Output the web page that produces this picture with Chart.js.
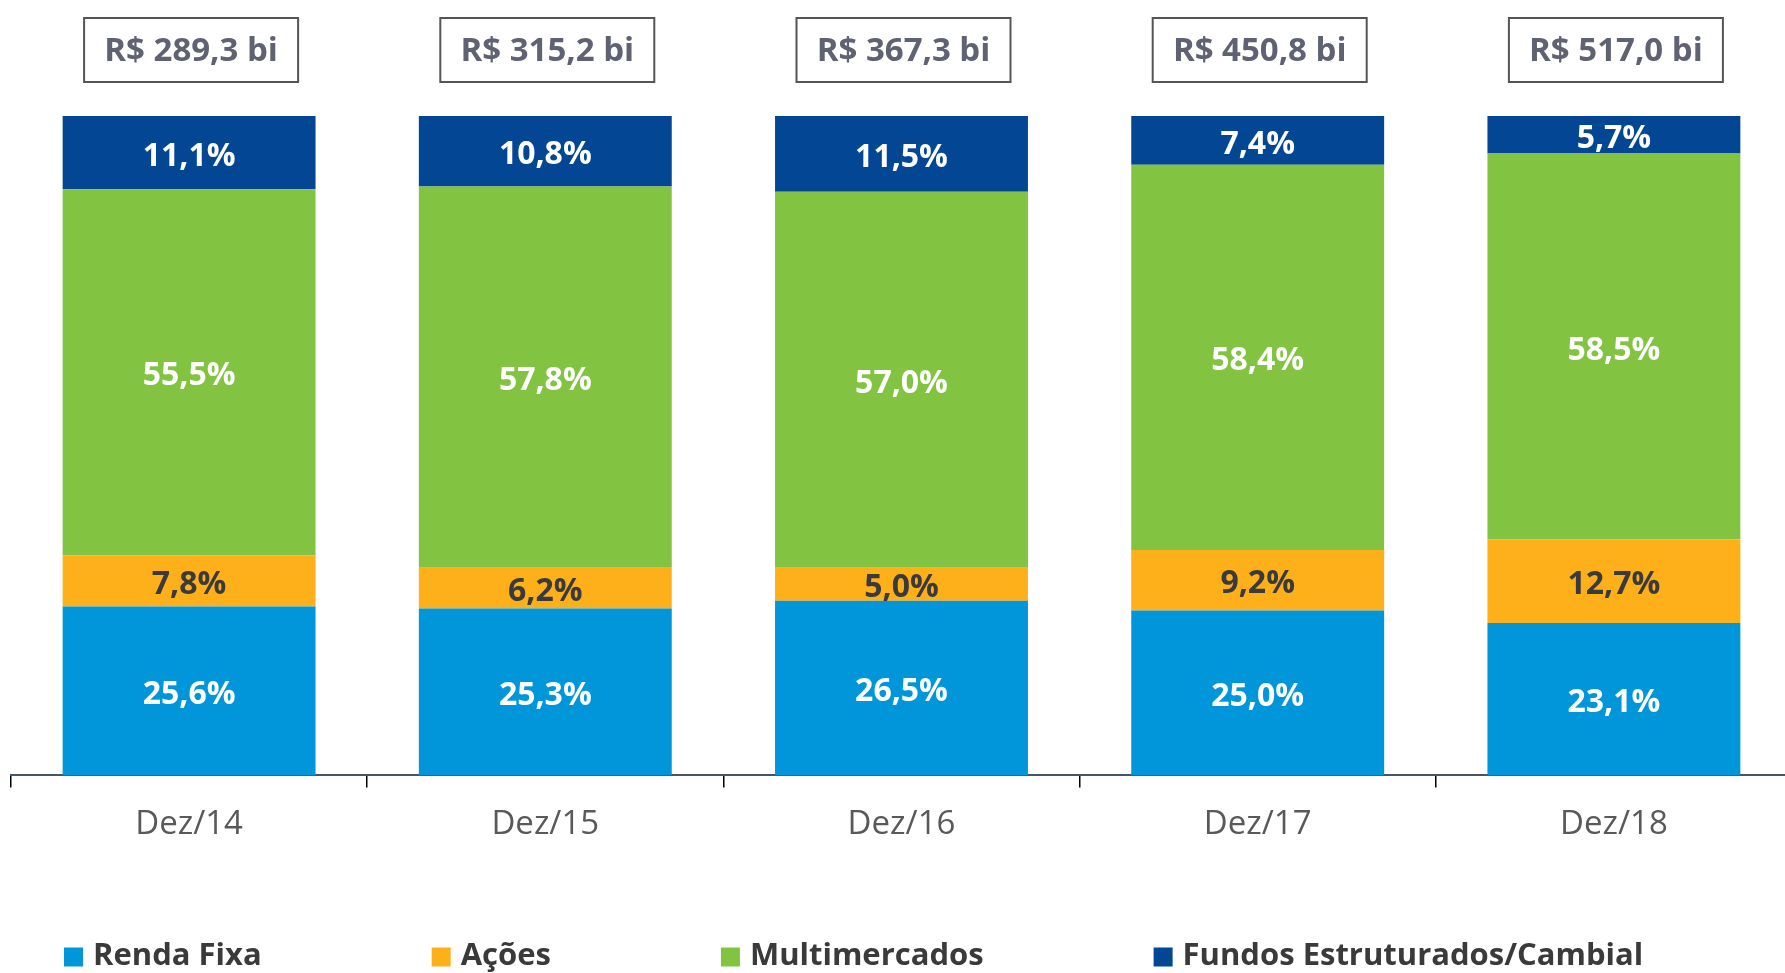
<!DOCTYPE html>
<html><head><meta charset="utf-8">
<script src="https://cdn.jsdelivr.net/npm/chart.js@4"></script>
<style>html,body{margin:0;padding:0;background:#fff;overflow:hidden}#wrap{width:1792px;height:973px;position:relative}</style>
</head><body><div id="wrap"><canvas id="c"></canvas></div>
<script>
// ---- data ----
const categories = ['Dez/14', 'Dez/15', 'Dez/16', 'Dez/17', 'Dez/18'];
const rendaFixa = [25.6, 25.3, 26.5, 25.0, 23.1];
const acoes = [7.8, 6.2, 5.0, 9.2, 12.7];
const multimercados = [55.5, 57.8, 57.0, 58.4, 58.5];
const fundosEstruturados = [11.1, 10.8, 11.5, 7.4, 5.7];
const totalsBi = [289.3, 315.2, 367.3, 450.8, 517.0];
const seriesNames = ['Renda Fixa', 'Ações', 'Multimercados', 'Fundos Estruturados/Cambial'];
const seriesColors = ['#0096D9', '#FDB019', '#82C341', '#034693'];
const labelColors = ['#FFFFFF', '#3A3A3A', '#FFFFFF', '#FFFFFF'];

const FONT = "'Open Sans', 'DejaVu Sans', sans-serif";
const fmt = v => v.toFixed(1).replace('.', ',');

Chart.defaults.font.family = FONT;

const segmentLabels = {
  id: 'segmentLabels',
  afterDatasetsDraw(chart) {
    const ctx = chart.ctx;
    ctx.save();
    ctx.font = 'bold 32px ' + FONT;
    ctx.textAlign = 'center';
    ctx.textBaseline = 'middle';
    chart.data.datasets.forEach((ds, d) => {
      const meta = chart.getDatasetMeta(d);
      meta.data.forEach((bar, i) => {
        const cy = (bar.y + bar.base) / 2 + 4;
        ctx.fillStyle = labelColors[d];
        ctx.fillText(fmt(ds.data[i]) + '%', bar.x, cy);
      });
    });
    ctx.restore();
  }
};

const totalBoxes = {
  id: 'totalBoxes',
  afterDraw(chart) {
    const ctx = chart.ctx;
    const meta = chart.getDatasetMeta(0);
    const top = chart.chartArea.top;
    ctx.save();
    ctx.font = 'bold 33px ' + FONT;
    ctx.textAlign = 'center';
    ctx.textBaseline = 'middle';
    meta.data.forEach((bar, i) => {
      const w = 214, h = 64;
      const x = bar.x + 2 - w / 2;
      const y = top - 98;
      ctx.fillStyle = '#FFFFFF';
      ctx.fillRect(x, y, w, h);
      ctx.strokeStyle = '#555555';
      ctx.lineWidth = 2;
      ctx.strokeRect(x, y, w, h);
      ctx.fillStyle = '#5F6272';
      ctx.fillText('R$ ' + fmt(totalsBi[i]) + ' bi', x + w / 2, y + h / 2 + 2);
    });
    ctx.restore();
  }
};

const bottomLegend = {
  id: 'bottomLegend',
  afterDraw(chart) {
    const ctx = chart.ctx;
    ctx.save();
    ctx.font = 'bold 31px ' + FONT;
    ctx.textBaseline = 'middle';
    ctx.textAlign = 'left';
    let x = chart.chartArea.left + 53;
    const cy = chart.height - 17;
    const box = 19, gap = 10, spacing = 170;
    chart.data.datasets.forEach((ds) => {
      ctx.fillStyle = ds.backgroundColor;
      ctx.fillRect(x, cy - box / 2 + 1, box, box);
      ctx.fillStyle = '#3A3A3A';
      ctx.fillText(ds.label, x + box + gap, cy);
      x += box + gap + ctx.measureText(ds.label).width + spacing;
    });
    ctx.restore();
  }
};

const seriesData = [rendaFixa, acoes, multimercados, fundosEstruturados];

new Chart(document.getElementById('c'), {
  type: 'bar',
  data: {
    labels: categories,
    datasets: seriesData.map((arr, k) => ({
      label: seriesNames[k],
      data: arr,
      backgroundColor: seriesColors[k],
      borderWidth: 0,
      barPercentage: 0.71,
      categoryPercentage: 1.0
    }))
  },
  options: {
    responsive: true,
    maintainAspectRatio: false,
    animation: false,
    layout: { padding: { top: 116, left: 11, right: 0, bottom: 112 } },
    plugins: {
      legend: { display: false },
      tooltip: { enabled: false }
    },
    scales: {
      x: {
        stacked: true,
        grid: { display: true, drawOnChartArea: false, drawTicks: true, tickLength: 12, color: '#000000', lineWidth: 1.5, offset: true },
        border: { display: true, color: '#44546A', width: 2 },
        ticks: { color: '#595959', font: { size: 33, family: FONT }, padding: 17 }
      },
      y: {
        stacked: true,
        display: false,
        min: 0,
        max: 100
      }
    }
  },
  plugins: [segmentLabels, totalBoxes, bottomLegend]
});
</script>
</body></html>
